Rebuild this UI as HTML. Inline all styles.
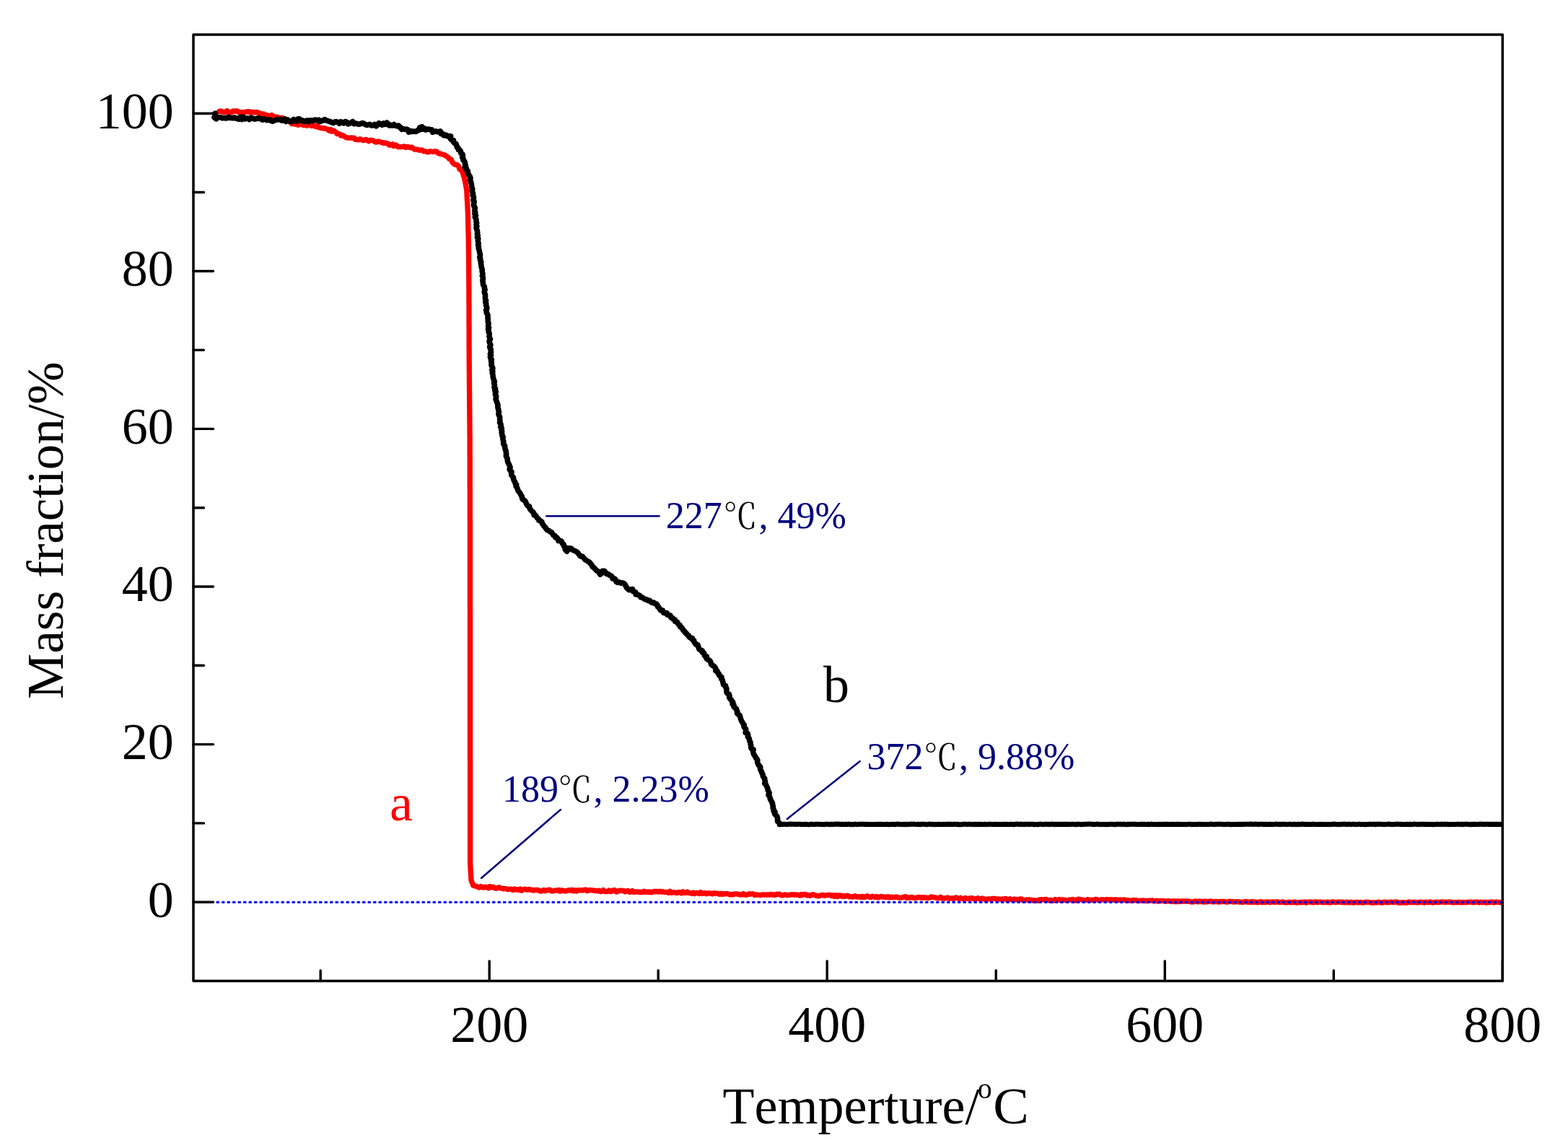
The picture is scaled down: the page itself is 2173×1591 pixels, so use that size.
<!DOCTYPE html>
<html><head><meta charset="utf-8"><title>TGA curves</title>
<style>
html,body{margin:0;padding:0;background:#fff;}
body{width:2173px;height:1591px;overflow:hidden;}
svg{display:block;}
text{font-family:"Liberation Serif", "Noto Serif CJK SC", serif;font-kerning:none;}
.cjk{font-family:"Noto Serif CJK SC", "Liberation Serif", serif;}
</style></head><body>
<svg width="2173" height="1591" viewBox="0 0 2173 1591">
<rect width="2173" height="1591" fill="#fff"/>
<defs><clipPath id="pc"><rect x="268" y="48" width="1814.3" height="1311.5"/></clipPath></defs>
<g clip-path="url(#pc)" fill="none" stroke-linejoin="round" stroke-linecap="round">
<path d="M304.0 154.4L306.1 153.9L308.2 155.2L310.4 155.3L312.5 155.5L314.7 153.5L316.8 155.7L318.8 155.8L320.9 156.0L323.0 153.8L325.0 154.2L327.0 154.0L329.1 153.8L331.1 156.0L333.1 156.0L335.2 155.5L337.2 156.1L339.3 155.7L341.4 154.9L343.4 154.6L345.5 154.7L347.4 156.5L349.5 155.1L351.6 155.5L353.6 155.9L355.9 155.3L357.8 156.3L359.8 156.8L361.7 158.3L363.9 157.8L366.0 158.1L367.7 160.2L370.0 159.4L371.8 160.7L374.0 160.6L376.4 159.5L378.2 160.9L380.2 161.5L382.1 162.8L384.4 162.1L386.2 163.5L388.3 163.5L390.7 163.2L391.9 165.6L394.5 164.6L395.6 167.1L398.2 166.4L400.2 166.9L401.8 168.2L403.1 170.3L404.7 171.7L407.6 170.2L408.9 172.2L410.9 172.3L413.0 173.2L415.1 171.7L417.1 172.6L419.1 172.3L421.1 173.7L423.2 172.3L425.2 174.2L427.4 172.5L429.5 172.8L431.3 174.4L433.4 174.3L435.7 173.8L437.5 175.5L439.8 174.5L441.5 176.7L443.6 176.9L445.5 177.5L447.6 177.8L449.9 177.7L451.9 178.5L454.0 179.1L455.6 181.0L458.3 179.6L459.6 182.2L462.3 181.0L464.0 182.3L465.8 183.2L466.9 185.6L469.2 185.5L471.2 186.0L472.5 188.0L475.0 187.3L476.6 188.7L478.4 189.7L480.3 190.7L482.4 191.1L484.5 191.2L486.7 190.9L488.7 191.2L490.8 191.2L492.5 193.4L494.7 193.3L496.7 193.9L498.9 192.6L500.9 193.5L502.9 194.6L505.0 194.3L507.1 193.3L509.1 194.4L511.0 195.7L513.2 194.2L515.4 194.3L517.3 195.0L519.2 196.4L521.2 197.2L523.6 195.9L525.6 196.3L527.6 196.9L529.6 197.5L531.5 198.4L533.8 197.9L535.7 198.8L537.8 198.8L539.5 201.2L541.7 201.0L544.0 199.8L545.6 202.4L548.1 200.7L550.0 201.8L551.8 203.7L553.9 203.6L556.0 203.7L558.2 203.2L560.3 202.9L562.2 204.4L564.4 203.3L566.4 203.8L568.4 204.6L570.7 204.0L572.5 205.5L574.3 207.0L576.4 207.2L578.6 207.2L580.6 208.1L582.8 208.2L585.0 207.9L586.8 209.6L588.9 209.6L591.2 210.4L593.5 210.9L595.8 209.6L598.1 210.0L600.4 210.4L602.8 209.6L604.9 209.8L606.5 211.7L608.3 212.7L610.4 213.1L612.4 213.6L614.2 214.6L616.2 214.7L617.8 216.1L619.6 217.1L621.4 218.2L622.4 220.2L624.9 220.5L625.9 222.6L627.0 225.2L629.1 227.2L631.1 228.1L633.4 228.3L635.1 229.9L636.2 232.2L637.1 234.8L640.4 237.0L641.0 239.0L641.7 241.1L642.3 243.1L643.0 245.2L643.6 247.2L644.0 249.2L644.4 251.1L644.8 253.1L645.2 255.0L645.5 257.0L645.9 259.0L646.3 260.9L646.7 262.9L646.8 265.0L646.9 267.1L647.0 269.2L647.1 271.3L647.2 273.4L647.3 275.5L647.4 277.6L647.6 279.6L647.7 281.7L647.8 283.8L647.9 285.9L648.0 288.0L648.1 290.1L648.2 292.2L648.3 294.3L648.4 296.4L648.4 298.5L648.5 300.6L648.5 302.7L648.6 304.8L648.6 306.9L648.7 309.0L648.7 311.1L648.8 313.2L648.8 315.3L648.9 317.4L648.9 319.5L649.0 321.6L649.0 323.7L649.1 325.8L649.1 327.9L649.2 330.0L649.2 332.1L649.2 334.2L649.3 336.3L649.3 338.4L649.3 340.5L649.4 342.5L649.4 344.6L649.4 346.7L649.5 348.8L649.5 350.9L649.5 353.0L649.6 355.1L649.6 357.2L649.6 359.3L649.6 361.3L649.6 363.4L649.7 365.4L649.7 367.5L649.7 369.5L649.7 371.6L649.7 373.6L649.7 375.7L649.7 377.7L649.7 379.8L649.8 381.8L649.8 383.9L649.8 385.9L649.8 388.0L649.8 390.0L649.8 392.1L649.8 394.1L649.8 396.2L649.9 398.2L649.9 400.3L649.9 402.3L649.9 404.4L649.9 406.4L649.9 408.4L649.9 410.4L649.9 412.4L649.9 414.4L649.9 416.4L649.9 418.4L650.0 420.4L650.0 422.4L650.0 424.4L650.0 426.4L650.0 428.4L650.0 430.4L650.0 432.4L650.0 434.4L650.0 436.4L650.0 438.4L650.0 440.4L650.0 442.4L650.0 444.4L650.0 446.4L650.0 448.4L650.0 450.4L650.1 452.5L650.1 454.5L650.1 456.5L650.1 458.5L650.1 460.5L650.1 462.5L650.1 464.5L650.1 466.5L650.1 468.5L650.1 470.5L650.1 472.5L650.1 474.5L650.1 476.5L650.1 478.5L650.1 480.5L650.2 482.5L650.2 484.5L650.2 486.5L650.2 488.5L650.2 490.5L650.2 492.5L650.2 494.5L650.2 496.5L650.2 498.5L650.2 500.5L650.2 502.6L650.3 504.6L650.3 506.6L650.3 508.6L650.3 510.6L650.3 512.7L650.3 514.7L650.4 516.7L650.4 518.7L650.4 520.7L650.4 522.8L650.4 524.8L650.4 526.8L650.5 528.8L650.5 530.8L650.5 532.9L650.5 534.9L650.5 536.9L650.5 538.9L650.6 540.9L650.6 543.0L650.6 545.0L650.6 547.0L650.6 549.0L650.6 551.0L650.7 553.0L650.7 555.1L650.7 557.1L650.7 559.1L650.7 561.1L650.7 563.1L650.7 565.2L650.8 567.2L650.8 569.2L650.8 571.2L650.8 573.2L650.8 575.3L650.8 577.3L650.9 579.3L650.9 581.3L650.9 583.3L650.9 585.4L650.9 587.4L650.9 589.4L651.0 591.4L651.0 593.4L651.0 595.5L651.0 597.5L651.0 599.5L651.0 601.5L651.1 603.5L651.1 605.6L651.1 607.6L651.1 609.6L651.1 611.6L651.1 613.6L651.1 615.6L651.1 617.6L651.1 619.6L651.1 621.6L651.1 623.6L651.1 625.6L651.1 627.7L651.1 629.7L651.2 631.7L651.2 633.7L651.2 635.7L651.2 637.7L651.2 639.7L651.2 641.7L651.2 643.7L651.2 645.7L651.2 647.7L651.2 649.7L651.2 651.7L651.2 653.7L651.2 655.7L651.2 657.7L651.2 659.8L651.2 661.8L651.2 663.8L651.2 665.8L651.2 667.8L651.2 669.8L651.2 671.8L651.2 673.8L651.3 675.8L651.3 677.8L651.3 679.8L651.3 681.8L651.3 683.8L651.3 685.8L651.3 687.8L651.3 689.8L651.3 691.9L651.3 693.9L651.3 695.9L651.3 697.9L651.3 699.9L651.3 701.9L651.3 703.9L651.3 705.9L651.3 707.9L651.3 709.9L651.3 711.9L651.3 713.9L651.3 715.9L651.3 717.9L651.4 719.9L651.4 721.9L651.4 724.0L651.4 726.0L651.4 728.0L651.4 730.0L651.4 732.0L651.4 734.0L651.4 736.0L651.4 738.0L651.4 740.0L651.4 742.0L651.4 744.0L651.4 746.0L651.4 748.0L651.4 750.0L651.4 752.0L651.4 754.0L651.4 756.0L651.4 758.0L651.4 760.0L651.4 762.0L651.4 764.0L651.4 766.0L651.4 768.0L651.4 770.0L651.4 772.0L651.4 774.0L651.4 776.0L651.4 778.0L651.4 780.0L651.4 782.0L651.4 784.0L651.4 786.0L651.4 788.0L651.4 790.0L651.4 792.0L651.4 794.0L651.4 796.0L651.4 798.0L651.4 800.0L651.4 802.0L651.4 804.0L651.4 806.0L651.4 808.0L651.4 810.0L651.4 812.0L651.4 814.0L651.4 816.0L651.4 818.0L651.4 820.0L651.4 822.0L651.4 824.0L651.4 826.0L651.4 828.0L651.4 830.0L651.4 832.0L651.4 834.0L651.4 836.0L651.4 838.0L651.4 840.0L651.4 842.0L651.4 844.0L651.5 846.0L651.5 848.0L651.5 850.0L651.5 852.0L651.5 854.0L651.5 856.0L651.5 858.0L651.5 860.0L651.5 862.0L651.5 864.0L651.5 866.0L651.5 868.0L651.5 870.0L651.5 872.0L651.5 874.0L651.5 876.0L651.5 878.0L651.5 880.0L651.5 882.0L651.5 884.0L651.5 886.0L651.5 888.0L651.5 890.0L651.5 892.0L651.5 894.0L651.5 896.0L651.5 898.0L651.5 900.0L651.5 902.0L651.5 904.0L651.5 906.0L651.5 908.0L651.5 910.0L651.5 912.0L651.5 914.0L651.5 916.0L651.5 918.0L651.5 920.0L651.5 922.0L651.5 924.0L651.5 926.0L651.5 928.0L651.5 930.0L651.5 932.0L651.5 934.0L651.5 936.0L651.5 938.0L651.5 940.0L651.5 942.0L651.5 944.0L651.5 946.0L651.5 948.0L651.5 950.0L651.5 952.0L651.5 954.0L651.5 956.0L651.5 958.0L651.5 960.0L651.5 962.0L651.5 964.0L651.5 966.0L651.5 968.0L651.5 970.0L651.5 972.0L651.5 974.0L651.5 976.0L651.5 978.0L651.5 980.0L651.5 982.0L651.5 984.0L651.5 986.0L651.5 988.0L651.5 990.0L651.5 992.0L651.5 994.0L651.5 996.0L651.5 998.0L651.5 1000.0L651.5 1002.0L651.5 1004.0L651.5 1006.0L651.5 1008.0L651.5 1010.0L651.5 1012.0L651.5 1014.0L651.5 1016.0L651.5 1018.0L651.5 1020.0L651.5 1022.0L651.5 1024.0L651.5 1026.0L651.5 1028.0L651.5 1030.0L651.5 1032.0L651.5 1034.0L651.5 1036.0L651.5 1038.0L651.5 1040.0L651.5 1042.0L651.5 1044.0L651.5 1046.0L651.5 1048.0L651.5 1050.0L651.5 1052.0L651.5 1054.0L651.6 1056.0L651.6 1058.0L651.6 1060.0L651.6 1062.0L651.6 1064.0L651.6 1066.0L651.6 1068.0L651.6 1070.0L651.6 1072.0L651.6 1074.0L651.6 1076.0L651.6 1078.0L651.6 1080.0L651.6 1082.0L651.6 1084.0L651.6 1086.0L651.6 1088.0L651.6 1090.0L651.6 1092.0L651.6 1094.0L651.6 1096.0L651.6 1098.0L651.6 1100.0L651.6 1102.0L651.6 1104.0L651.6 1106.0L651.6 1108.0L651.6 1110.0L651.6 1112.0L651.6 1114.0L651.6 1116.0L651.6 1118.0L651.6 1120.0L651.6 1122.0L651.6 1124.0L651.6 1126.0L651.6 1128.0L651.6 1130.0L651.6 1132.0L651.6 1134.0L651.6 1136.0L651.6 1138.0L651.6 1140.0L651.6 1142.0L651.6 1144.0L651.6 1146.0L651.6 1148.0L651.6 1150.0L651.6 1152.0L651.6 1154.0L651.6 1156.0L651.6 1158.0L651.6 1160.0L651.6 1162.0L651.6 1164.1L651.6 1166.1L651.6 1168.2L651.6 1170.2L651.6 1172.3L651.6 1174.3L651.6 1176.4L651.6 1178.4L651.6 1180.4L651.6 1182.5L651.6 1184.5L651.6 1186.6L651.6 1188.6L651.6 1190.7L651.6 1192.7L651.6 1194.8L651.6 1196.8L651.7 1198.9L651.9 1201.0L652.0 1203.1L652.1 1205.2L652.2 1207.3L652.4 1209.3L652.5 1211.4L652.6 1213.5L652.7 1215.6L652.9 1217.7L653.0 1219.8L653.9 1222.3L654.9 1224.7L655.8 1227.2L657.9 1227.8L660.1 1228.2L662.2 1229.4L664.2 1230.1L666.4 1228.4L668.5 1229.6L670.5 1230.0L672.7 1229.2L674.7 1229.5L676.8 1230.8L679.0 1228.6L681.0 1229.9L683.1 1229.1L685.1 1230.7L687.2 1231.3L689.4 1230.5L691.7 1229.7L693.7 1231.0L695.8 1231.1L697.9 1231.8L700.1 1231.5L702.2 1232.0L704.2 1232.7L706.4 1232.1L708.6 1232.1L710.6 1233.6L712.8 1232.0L714.8 1233.2L716.9 1232.6L718.9 1233.6L721.0 1232.1L723.0 1234.3L725.1 1232.8L727.2 1232.2L729.2 1232.8L731.3 1233.2L733.3 1232.3L735.4 1233.4L737.4 1233.4L739.4 1234.2L741.5 1233.4L743.6 1233.3L745.6 1233.3L747.6 1234.6L749.7 1235.2L751.7 1234.2L753.8 1233.4L755.8 1234.8L757.9 1233.8L759.9 1233.4L762.0 1233.2L764.0 1234.8L766.1 1234.8L768.1 1234.4L770.1 1234.0L772.2 1234.2L774.2 1233.4L776.3 1235.2L778.3 1233.7L780.4 1234.4L782.4 1234.9L784.5 1234.9L786.5 1234.0L788.6 1233.6L790.7 1234.2L792.8 1233.2L794.9 1234.9L797.0 1233.8L799.1 1235.0L801.2 1233.6L803.3 1233.9L805.3 1233.6L807.4 1234.0L809.5 1233.4L811.6 1233.0L813.7 1234.7L815.8 1233.7L817.9 1233.6L820.0 1233.7L822.0 1234.2L824.0 1234.1L826.0 1234.7L828.0 1234.8L830.0 1234.1L832.0 1235.5L834.0 1235.4L836.1 1233.5L838.1 1235.4L840.1 1235.6L842.1 1235.4L844.1 1233.9L846.1 1235.6L848.1 1235.1L850.1 1233.7L852.1 1233.7L854.1 1236.0L856.1 1235.4L858.2 1234.4L860.2 1234.1L862.2 1234.3L864.2 1234.5L866.2 1235.9L868.2 1234.9L870.2 1234.5L872.2 1236.3L874.2 1236.1L876.2 1234.6L878.2 1236.4L880.2 1235.8L882.2 1236.2L884.2 1236.0L886.2 1236.6L888.2 1236.4L890.2 1236.6L892.3 1235.1L894.3 1236.3L896.3 1235.9L898.3 1236.5L900.3 1235.8L902.3 1236.9L904.3 1236.2L906.3 1235.5L908.3 1235.5L910.4 1235.3L912.3 1236.2L914.4 1235.2L916.4 1236.2L918.4 1235.5L920.4 1236.4L922.4 1236.4L924.4 1236.6L926.4 1237.4L928.4 1235.4L930.4 1237.4L932.4 1236.6L934.4 1236.9L936.4 1237.1L938.4 1237.6L940.5 1236.5L942.5 1236.7L944.4 1238.0L946.5 1235.9L948.5 1237.3L950.5 1237.4L952.5 1236.0L954.5 1237.4L956.6 1237.7L958.6 1238.3L960.7 1237.0L962.7 1238.6L964.7 1237.5L966.8 1237.5L968.8 1238.6L970.9 1236.6L972.9 1238.3L974.9 1238.1L977.0 1237.5L979.0 1238.8L981.1 1237.7L983.1 1238.0L985.2 1238.2L987.2 1238.9L989.3 1237.6L991.3 1238.2L993.3 1238.2L995.4 1238.6L997.4 1239.4L999.5 1238.1L1001.5 1239.4L1003.5 1238.6L1005.6 1238.8L1007.6 1238.4L1009.7 1239.0L1011.7 1240.0L1013.7 1239.4L1015.8 1239.8L1017.8 1238.9L1019.9 1238.9L1021.9 1239.0L1024.0 1239.6L1026.0 1239.8L1028.0 1240.1L1030.0 1238.6L1032.0 1240.0L1034.0 1240.3L1036.1 1239.7L1038.1 1238.7L1040.1 1239.2L1042.1 1238.7L1044.1 1239.0L1046.1 1240.5L1048.1 1239.9L1050.1 1240.0L1052.1 1240.3L1054.2 1240.6L1056.2 1240.0L1058.2 1240.0L1060.2 1240.1L1062.2 1240.2L1064.2 1240.0L1066.2 1240.2L1068.2 1239.3L1070.2 1240.2L1072.3 1239.8L1074.3 1240.5L1076.3 1239.2L1078.3 1239.3L1080.3 1239.1L1082.3 1240.6L1084.3 1240.9L1086.3 1240.4L1088.4 1239.8L1090.4 1240.7L1092.4 1240.7L1094.4 1240.2L1096.4 1239.7L1098.4 1239.8L1100.4 1240.0L1102.4 1239.8L1104.4 1240.1L1106.5 1240.5L1108.5 1241.1L1110.5 1239.4L1112.5 1240.4L1114.5 1239.4L1116.5 1239.6L1118.5 1241.0L1120.5 1240.6L1122.5 1241.4L1124.5 1240.5L1126.6 1239.7L1128.6 1240.5L1130.6 1241.0L1132.6 1241.7L1134.6 1241.9L1136.6 1240.9L1138.6 1240.9L1140.6 1240.3L1142.6 1241.4L1144.7 1240.6L1146.7 1240.6L1148.7 1240.4L1150.7 1240.4L1152.7 1241.8L1154.7 1240.8L1156.7 1242.5L1158.7 1240.8L1160.7 1242.5L1162.7 1241.0L1164.8 1240.9L1166.7 1242.3L1168.8 1241.4L1170.7 1242.5L1172.8 1241.5L1174.8 1241.2L1176.8 1242.8L1178.8 1242.7L1180.8 1243.0L1182.8 1242.8L1184.8 1241.6L1186.8 1242.8L1188.8 1243.0L1190.8 1242.6L1192.8 1243.6L1194.9 1242.3L1196.8 1243.7L1198.9 1243.3L1200.9 1242.0L1202.9 1242.0L1204.9 1243.3L1206.9 1243.7L1208.9 1242.2L1210.9 1242.7L1212.9 1243.6L1215.0 1242.5L1217.0 1243.9L1219.0 1243.1L1221.0 1242.3L1223.0 1242.9L1225.0 1243.4L1227.0 1243.1L1229.0 1243.6L1231.0 1242.6L1233.0 1243.9L1235.0 1243.1L1237.1 1243.6L1239.1 1243.6L1241.1 1243.2L1243.1 1243.2L1245.1 1244.0L1247.1 1244.3L1249.1 1244.0L1251.1 1243.6L1253.1 1243.1L1255.1 1242.7L1257.1 1244.5L1259.2 1244.0L1261.2 1244.2L1263.2 1243.3L1265.2 1243.8L1267.2 1244.6L1269.2 1244.3L1271.2 1243.9L1273.2 1243.3L1275.2 1243.6L1277.2 1244.5L1279.2 1243.5L1281.3 1244.2L1283.3 1244.0L1285.3 1244.6L1287.3 1244.5L1289.3 1243.4L1291.3 1242.9L1293.3 1243.5L1295.3 1243.8L1297.3 1244.2L1299.3 1244.7L1301.3 1244.9L1303.4 1243.3L1305.3 1244.9L1307.3 1244.9L1309.3 1245.1L1311.4 1244.5L1313.4 1244.0L1315.4 1245.2L1317.4 1245.1L1319.4 1244.9L1321.4 1245.4L1323.4 1244.4L1325.4 1243.9L1327.4 1244.9L1329.4 1245.4L1331.5 1244.3L1333.4 1245.4L1335.4 1245.8L1337.5 1244.5L1339.5 1245.3L1341.5 1245.4L1343.5 1245.1L1345.5 1244.6L1347.5 1244.7L1349.5 1245.8L1351.5 1245.9L1353.5 1245.3L1355.5 1244.6L1357.5 1246.1L1359.5 1246.1L1361.6 1245.0L1363.5 1245.8L1365.5 1246.5L1367.5 1246.5L1369.6 1245.8L1371.6 1245.8L1373.6 1246.0L1375.6 1245.3L1377.6 1245.3L1379.6 1245.4L1381.6 1246.5L1383.6 1245.8L1385.6 1246.3L1387.7 1246.0L1389.7 1246.3L1391.7 1245.6L1393.7 1245.4L1395.7 1247.4L1397.7 1246.2L1399.8 1245.7L1401.7 1246.8L1403.7 1247.2L1405.8 1246.0L1407.8 1246.9L1409.8 1246.4L1411.8 1246.8L1413.9 1245.9L1415.9 1246.0L1417.8 1247.9L1419.8 1247.7L1421.9 1247.0L1423.9 1247.2L1425.9 1246.7L1427.9 1247.8L1429.9 1247.1L1431.9 1248.2L1433.9 1247.9L1436.0 1248.0L1438.0 1248.4L1440.0 1247.0L1442.0 1246.6L1444.1 1246.9L1446.1 1246.8L1448.1 1246.6L1450.2 1246.5L1452.2 1247.5L1454.3 1248.1L1456.3 1247.3L1458.4 1248.3L1460.4 1248.2L1462.4 1246.5L1464.5 1247.5L1466.5 1247.1L1468.5 1246.5L1470.6 1248.2L1472.6 1246.8L1474.7 1247.4L1476.7 1247.5L1478.7 1248.2L1480.8 1247.6L1482.8 1247.0L1484.8 1247.1L1486.9 1246.5L1488.9 1248.1L1491.0 1248.1L1493.0 1246.6L1495.0 1246.2L1497.1 1246.6L1499.1 1246.8L1501.2 1247.6L1503.2 1247.6L1505.2 1247.5L1507.3 1246.5L1509.3 1247.4L1511.4 1247.3L1513.4 1247.2L1515.4 1247.6L1517.5 1246.4L1519.5 1246.5L1521.5 1247.3L1523.6 1247.5L1525.6 1247.1L1527.7 1246.7L1529.7 1247.0L1531.7 1247.3L1533.8 1246.5L1535.8 1246.8L1537.9 1246.8L1539.9 1246.7L1541.9 1247.2L1544.0 1246.8L1546.0 1247.0L1548.1 1246.9L1550.1 1247.6L1552.2 1246.8L1554.2 1247.7L1556.2 1247.2L1558.3 1247.0L1560.3 1248.1L1562.4 1247.3L1564.4 1248.2L1566.4 1248.2L1568.5 1248.3L1570.5 1247.4L1572.6 1247.8L1574.6 1247.5L1576.6 1248.5L1578.7 1248.5L1580.7 1248.2L1582.8 1248.1L1584.8 1248.0L1586.8 1248.6L1588.9 1248.3L1590.9 1248.5L1593.0 1248.0L1595.0 1248.1L1597.1 1247.9L1599.1 1248.8L1601.1 1248.6L1603.2 1248.2L1605.2 1249.1L1607.3 1248.4L1609.3 1248.7L1611.3 1248.4L1613.4 1248.6L1615.4 1249.3L1617.5 1248.8L1619.5 1248.6L1621.5 1249.0L1623.6 1248.8L1625.6 1249.5L1627.7 1248.6L1629.7 1249.7L1631.7 1248.6L1633.8 1249.6L1635.8 1249.4L1637.9 1248.8L1639.9 1249.2L1641.9 1249.0L1644.0 1249.0L1646.0 1248.9L1648.0 1249.1L1650.1 1249.9L1652.1 1249.9L1654.2 1249.9L1656.2 1248.9L1658.2 1249.1L1660.3 1249.9L1662.3 1248.9L1664.3 1249.7L1666.4 1249.2L1668.4 1250.1L1670.5 1248.9L1672.5 1249.9L1674.5 1249.4L1676.6 1249.1L1678.6 1249.0L1680.7 1250.0L1682.7 1249.7L1684.7 1249.3L1686.8 1249.6L1688.8 1250.2L1690.9 1249.4L1692.9 1249.8L1694.9 1249.3L1697.0 1249.4L1699.0 1250.1L1701.0 1250.1L1703.1 1249.5L1705.1 1249.4L1707.2 1249.4L1709.2 1250.0L1711.2 1249.9L1713.2 1249.7L1715.3 1249.6L1717.3 1250.1L1719.3 1250.2L1721.3 1250.4L1723.3 1250.1L1725.3 1249.6L1727.4 1249.5L1729.4 1250.3L1731.4 1249.9L1733.4 1250.3L1735.4 1249.5L1737.4 1250.5L1739.5 1249.9L1741.5 1250.5L1743.5 1250.6L1745.5 1250.1L1747.5 1249.6L1749.6 1250.7L1751.6 1250.2L1753.6 1250.6L1755.6 1249.9L1757.6 1249.8L1759.6 1250.6L1761.7 1250.1L1763.7 1249.9L1765.7 1250.1L1767.7 1250.4L1769.7 1249.7L1771.8 1250.3L1773.8 1250.3L1775.8 1250.4L1777.8 1249.9L1779.8 1250.6L1781.8 1250.8L1783.9 1250.8L1785.9 1250.2L1787.9 1250.7L1789.9 1250.3L1791.9 1250.7L1794.0 1249.9L1796.0 1250.9L1798.0 1251.0L1800.0 1250.5L1802.0 1250.5L1804.0 1250.5L1806.0 1250.5L1808.0 1249.9L1810.0 1251.1L1812.0 1250.2L1814.0 1250.1L1816.0 1250.0L1818.0 1250.2L1820.0 1250.9L1822.0 1249.9L1824.0 1250.0L1826.0 1250.7L1828.0 1250.1L1830.0 1249.9L1832.0 1250.6L1834.0 1250.6L1836.0 1250.5L1838.0 1250.7L1840.0 1250.0L1842.0 1250.9L1844.0 1250.8L1846.0 1250.0L1848.0 1250.0L1850.0 1250.5L1852.0 1250.5L1854.0 1250.2L1856.0 1250.0L1858.0 1250.4L1860.0 1250.1L1862.0 1250.6L1864.0 1250.9L1866.0 1250.1L1868.0 1250.6L1870.0 1250.8L1872.0 1250.1L1874.0 1250.9L1876.0 1251.0L1878.0 1250.4L1880.0 1250.4L1882.0 1250.9L1884.0 1250.5L1886.0 1250.4L1888.0 1251.0L1890.0 1250.8L1892.0 1250.3L1894.0 1250.2L1896.0 1250.3L1898.0 1250.4L1900.0 1251.1L1902.0 1250.9L1904.0 1251.0L1906.0 1250.9L1908.0 1250.9L1910.0 1250.0L1912.0 1250.5L1914.0 1251.0L1916.0 1251.0L1918.0 1250.2L1920.0 1250.4L1922.0 1250.7L1924.0 1250.3L1926.0 1250.5L1928.0 1250.0L1930.0 1250.4L1932.0 1250.5L1934.0 1249.9L1936.0 1250.1L1938.0 1251.1L1940.0 1250.8L1942.0 1251.0L1944.0 1250.7L1946.0 1250.9L1948.0 1251.0L1950.0 1251.0L1952.0 1249.9L1954.0 1250.7L1956.0 1250.2L1958.0 1250.7L1960.0 1250.2L1962.0 1250.6L1964.0 1251.0L1966.0 1250.6L1968.0 1250.2L1970.0 1250.5L1972.0 1250.4L1974.0 1251.0L1976.0 1250.2L1978.0 1250.3L1980.0 1250.7L1982.0 1250.0L1984.0 1250.6L1986.0 1251.0L1988.0 1250.5L1990.0 1250.2L1992.0 1250.5L1994.0 1250.5L1996.0 1250.1L1998.0 1250.0L2000.0 1250.1L2002.0 1250.3L2004.0 1250.4L2006.0 1250.2L2008.0 1250.2L2010.0 1250.0L2012.0 1250.6L2014.0 1250.9L2016.0 1250.6L2018.0 1250.6L2020.0 1250.7L2022.0 1250.1L2024.0 1250.8L2026.0 1250.5L2028.0 1250.6L2030.0 1250.6L2032.0 1250.5L2034.0 1250.3L2036.0 1250.2L2038.0 1250.2L2040.0 1250.5L2042.0 1250.4L2044.0 1250.6L2046.0 1249.9L2048.0 1250.3L2050.0 1250.9L2052.0 1250.2L2054.0 1250.6L2056.0 1250.5L2058.0 1250.2L2060.0 1251.1L2062.0 1250.3L2064.0 1250.8L2066.0 1250.1L2068.0 1250.0L2070.0 1250.9L2072.0 1250.4L2074.0 1250.0L2076.0 1250.4L2078.0 1250.4L2080.0 1250.8L2082.0 1250.5" stroke="#ff0000" stroke-width="7.3"/>
<path d="M298.2 157.2L298.7 159.4L296.9 162.6L299.6 164.8L301.5 162.3L303.8 162.8L305.9 162.6L308.2 163.7L310.4 163.2L312.6 163.9L314.8 163.6L316.8 162.2L318.8 163.3L320.8 163.5L322.8 163.7L325.0 162.8L326.9 164.2L329.0 164.1L330.9 165.2L333.3 162.2L335.2 165.4L337.2 161.9L339.3 164.9L341.3 164.1L343.4 163.7L345.5 165.5L347.5 163.9L349.5 163.3L351.6 164.7L353.3 165.0L355.6 164.3L357.8 163.7L359.8 164.4L361.8 164.8L363.7 166.2L366.0 164.8L368.0 165.6L369.9 166.6L372.0 166.2L374.0 166.0L376.1 167.8L378.1 168.1L380.2 166.7L382.2 166.5L384.3 165.4L386.3 165.9L388.4 165.3L390.4 167.0L392.5 167.0L394.5 165.1L396.6 168.4L398.6 166.0L400.7 168.1L402.7 168.1L404.8 168.5L406.8 165.5L408.9 166.4L410.9 168.3L413.0 164.7L415.0 164.9L417.1 167.0L419.1 166.7L421.2 168.4L423.2 167.8L425.3 166.9L427.3 168.7L429.3 166.8L431.4 166.8L433.4 167.4L435.5 166.3L437.5 166.1L439.6 167.1L441.6 166.1L443.7 168.5L445.6 167.4L447.7 167.0L450.0 165.6L451.9 166.9L453.9 167.3L455.9 168.2L457.9 168.5L459.9 169.9L461.9 170.4L464.1 168.7L466.2 168.6L468.1 169.5L470.1 171.2L472.3 168.7L474.3 169.6L476.3 170.9L478.4 168.5L480.5 169.1L482.4 171.8L484.5 171.2L486.6 170.0L488.7 168.5L490.6 171.6L492.7 170.9L494.7 171.4L496.3 172.1L498.4 172.2L500.8 171.0L503.1 170.5L504.9 171.5L506.6 172.9L508.6 173.4L510.5 172.7L512.6 172.4L514.8 174.0L516.9 173.7L518.9 172.5L521.3 174.8L523.2 173.2L525.1 170.6L527.3 171.9L529.5 173.2L531.4 171.0L533.5 172.4L536.0 170.0L537.8 171.5L539.5 174.0L541.7 173.4L543.7 174.0L546.1 172.5L547.9 174.1L549.9 174.7L552.4 174.0L553.6 176.3L555.6 176.8L556.6 179.4L559.2 178.8L561.4 179.2L563.7 179.0L565.5 180.1L566.3 183.1L569.3 181.7L569.7 182.5L571.8 181.9L574.4 182.3L576.9 182.4L578.5 180.8L580.8 180.5L581.6 176.9L584.8 175.7L586.0 179.2L588.4 178.0L589.9 180.0L592.3 179.1L594.4 179.0L596.3 179.9L598.3 179.7L599.7 183.3L601.9 182.4L604.1 181.9L606.0 182.6L608.0 182.8L610.3 181.9L611.2 185.4L613.7 185.3L615.0 187.7L617.9 187.0L619.6 188.7L622.2 188.4L624.6 188.7L624.3 192.4L625.8 193.9L628.5 194.5L628.6 197.0L630.0 198.6L632.2 199.5L632.8 201.6L633.1 203.8L635.1 205.1L635.2 207.4L637.8 208.3L638.5 210.3L638.9 212.5L641.0 213.8L641.4 215.8L640.6 218.1L642.0 219.8L641.9 221.9L643.7 223.5L644.4 225.4L644.5 227.4L645.4 229.3L644.1 231.8L646.4 233.2L646.6 235.4L648.4 237.0L648.2 239.3L649.3 241.2L650.1 243.2L651.4 244.9L652.1 247.1L651.2 249.4L652.4 251.4L652.9 253.6L653.4 255.7L653.6 257.9L654.0 260.0L654.8 262.1L654.0 264.4L655.0 266.5L655.6 268.6L655.0 270.8L656.4 272.8L656.4 275.0L655.6 277.3L657.2 279.3L656.9 281.5L656.5 283.7L656.8 285.8L658.3 287.8L658.2 290.0L657.8 292.2L658.7 294.3L657.9 296.5L659.5 298.5L658.3 300.8L659.4 302.9L660.1 305.0L659.9 307.2L660.7 309.3L659.9 311.5L660.9 313.6L660.0 315.8L660.7 317.9L661.3 320.0L661.8 322.1L661.3 324.4L662.3 326.4L661.3 328.7L662.8 330.7L662.3 332.9L662.5 335.1L663.2 337.2L662.5 339.4L663.4 341.5L663.2 343.7L663.7 345.8L664.4 347.9L664.6 350.1L665.4 352.1L665.5 354.3L664.6 356.6L665.8 358.6L665.5 360.8L666.8 362.9L666.3 365.1L666.9 367.2L667.0 369.4L667.6 371.5L668.3 373.6L668.1 375.8L668.6 377.9L669.0 380.0L668.3 382.3L669.3 384.4L669.4 386.5L668.8 388.8L669.3 390.9L669.4 393.1L669.7 395.2L671.3 397.2L671.4 399.4L672.1 401.5L671.2 403.8L671.5 405.9L672.4 408.0L672.6 410.1L672.4 412.3L672.6 414.5L673.6 416.6L672.7 418.8L673.8 420.9L673.5 423.1L674.5 425.2L674.9 427.3L673.6 429.6L674.2 431.7L674.4 433.9L675.8 435.9L676.0 437.9L676.0 440.0L676.2 442.0L676.2 444.0L676.3 446.1L677.1 448.0L676.8 450.1L676.5 452.2L677.5 454.1L676.5 456.3L677.2 458.2L677.2 460.3L678.2 462.2L678.1 464.3L677.9 466.3L678.7 468.3L679.4 470.3L678.1 472.4L678.3 474.4L679.3 476.3L679.9 478.3L678.6 480.4L679.2 482.4L680.3 484.4L680.1 486.4L680.5 488.4L679.4 490.5L680.5 492.4L679.4 494.5L679.9 496.6L681.3 498.4L680.5 500.6L681.3 502.5L680.9 504.6L681.1 506.7L682.3 508.6L682.9 510.6L681.7 512.8L682.9 514.7L682.2 516.8L682.9 518.8L683.1 520.8L683.2 522.9L683.9 524.8L684.4 526.8L685.4 528.7L684.5 530.9L685.3 532.9L685.4 534.9L684.9 537.0L686.6 538.9L685.7 541.0L687.3 542.9L686.4 545.1L686.5 547.1L687.7 549.0L687.5 551.1L687.0 553.2L687.9 555.2L688.4 557.2L689.3 559.1L690.0 561.1L689.8 563.2L690.0 565.2L690.7 567.2L690.9 569.2L691.5 571.2L690.9 573.4L691.3 575.4L692.4 577.3L692.7 579.3L692.6 581.4L693.0 583.4L692.5 585.6L693.9 587.4L694.3 589.4L693.6 591.6L695.3 593.4L694.8 595.5L695.6 597.5L695.1 599.6L695.9 601.6L695.8 603.6L697.2 605.5L696.7 607.6L697.1 609.6L697.8 611.6L697.6 613.7L697.9 615.8L699.6 617.6L699.7 619.6L699.9 621.7L700.6 623.6L701.3 625.6L701.3 627.7L701.8 629.7L701.3 631.9L702.2 633.8L703.2 635.7L703.2 637.8L703.6 639.9L704.5 641.9L705.5 643.8L706.3 645.7L707.1 647.7L706.1 650.3L707.2 652.2L709.0 653.8L708.6 656.2L708.8 658.4L710.2 660.2L711.6 661.9L711.6 664.2L712.4 666.2L713.7 667.8L714.0 670.0L715.7 671.5L715.1 674.0L716.4 675.7L717.3 677.6L717.7 679.7L719.0 681.4L720.5 683.0L721.4 684.8L722.4 686.6L723.4 688.3L723.6 690.8L724.8 692.5L726.9 693.5L728.3 695.0L729.0 697.2L730.0 699.1L731.2 700.8L733.6 701.7L733.9 704.2L735.1 706.1L736.5 707.9L738.4 709.4L739.8 711.1L740.0 713.8L742.3 714.5L743.5 716.1L744.5 717.8L746.2 719.0L746.7 721.3L749.1 721.8L750.8 723.0L751.4 725.5L752.8 727.3L754.0 729.3L755.8 730.8L756.9 732.8L758.4 734.6L760.7 735.3L762.3 736.9L764.4 737.8L765.7 739.6L766.7 741.6L769.1 742.3L769.6 744.7L772.0 745.2L773.1 747.0L773.8 749.4L776.7 749.2L778.5 750.6L779.2 753.1L781.1 754.6L781.5 757.2L784.1 758.7L783.3 761.7L785.6 764.1L787.0 762.2L788.0 759.8L791.7 760.1L793.0 761.9L795.1 762.7L797.0 763.6L799.0 764.6L800.7 765.9L801.8 767.7L803.1 769.3L804.4 770.9L807.1 771.0L808.4 772.6L809.7 774.2L811.0 775.8L812.8 776.8L814.9 778.0L816.9 779.2L818.4 781.1L820.0 782.9L821.0 785.2L822.8 786.6L824.5 788.1L825.9 789.8L827.6 791.3L829.8 792.2L830.8 794.6L831.8 796.1L834.3 793.9L834.9 791.2L837.7 791.4L839.1 793.2L840.5 795.3L842.9 795.6L844.6 797.2L846.9 797.9L848.4 799.5L849.0 801.9L852.0 802.0L853.3 803.8L854.0 806.2L855.8 807.3L858.2 806.7L860.4 808.3L862.7 807.8L864.8 808.5L866.5 810.5L867.6 812.8L868.9 815.1L870.9 816.6L872.0 817.6L876.6 816.5L876.7 819.2L878.7 820.1L880.9 820.9L881.1 823.8L884.1 824.2L886.5 825.4L888.1 827.8L890.3 828.1L892.1 829.5L894.0 830.6L896.3 830.8L897.9 832.4L900.4 832.4L901.8 834.1L903.6 835.2L906.0 835.0L907.4 836.7L909.6 836.9L911.1 838.6L911.5 840.8L913.3 842.0L914.1 843.9L915.4 845.7L918.4 845.8L919.3 849.0L921.4 849.6L924.0 849.5L924.7 852.1L927.1 852.4L929.1 853.1L929.8 855.9L932.0 856.2L932.9 858.1L935.4 858.7L935.6 861.2L938.2 861.7L939.2 863.5L940.3 865.3L942.3 866.3L942.6 868.8L944.6 869.7L945.9 871.3L946.7 873.5L948.6 874.5L949.3 876.7L951.2 877.7L952.3 879.6L954.2 880.6L955.1 882.6L956.6 884.0L959.3 884.3L959.7 886.7L961.7 887.7L962.1 889.9L963.5 891.4L964.4 893.2L967.0 893.8L967.7 895.7L968.2 897.8L969.0 899.7L970.7 901.0L973.2 901.6L973.4 904.1L975.6 905.0L976.1 907.3L976.9 909.4L979.4 910.0L979.2 912.9L980.9 914.1L983.0 915.2L984.4 916.7L985.2 918.8L985.7 921.0L987.4 922.3L989.5 923.3L990.9 924.9L991.9 926.7L991.7 929.3L994.1 930.1L994.5 932.3L996.2 933.6L996.6 935.8L998.4 937.1L1000.0 938.4L999.7 940.9L1001.2 942.6L1001.7 944.8L1002.2 946.9L1002.7 949.0L1005.6 950.2L1005.7 952.5L1006.9 954.4L1006.9 956.7L1006.9 959.0L1007.9 961.0L1010.4 962.0L1011.0 964.0L1010.6 966.5L1011.8 968.2L1013.3 969.7L1014.1 971.6L1015.7 973.1L1015.1 975.7L1017.0 977.0L1016.9 979.4L1018.4 980.9L1020.4 982.2L1020.8 984.3L1021.9 986.0L1021.4 988.5L1023.0 990.0L1025.0 991.3L1025.7 993.2L1026.2 995.3L1026.9 997.2L1027.5 999.2L1028.8 1000.8L1029.7 1002.8L1031.3 1004.5L1030.9 1007.0L1032.2 1008.8L1033.7 1010.5L1033.6 1012.9L1033.2 1015.4L1036.1 1016.6L1036.7 1018.7L1036.3 1021.1L1037.9 1022.8L1038.6 1024.8L1038.8 1027.0L1040.0 1028.9L1040.0 1031.1L1040.8 1033.1L1040.6 1035.4L1041.2 1037.5L1044.1 1038.7L1043.6 1041.2L1043.9 1043.2L1044.5 1045.1L1045.6 1046.9L1046.7 1048.5L1047.5 1050.4L1048.9 1051.9L1049.9 1053.7L1049.6 1056.0L1050.2 1057.9L1050.9 1059.8L1052.3 1061.3L1053.8 1063.1L1053.5 1065.4L1054.2 1067.4L1055.4 1069.3L1055.8 1071.4L1057.1 1073.2L1057.3 1075.4L1058.3 1077.3L1059.8 1079.0L1059.8 1081.2L1060.5 1083.2L1059.7 1085.7L1061.5 1087.4L1062.3 1089.3L1063.2 1091.2L1063.9 1093.2L1064.2 1095.3L1065.3 1097.2L1066.2 1099.1L1064.9 1101.7L1066.4 1103.4L1067.1 1105.4L1067.4 1107.5L1068.6 1109.4L1069.5 1111.2L1070.5 1113.2L1070.7 1115.4L1071.4 1117.4L1071.1 1119.7L1072.2 1121.6L1072.1 1123.9L1074.1 1125.4L1073.5 1127.9L1075.0 1129.7L1076.8 1131.2L1077.5 1133.5L1077.6 1136.0L1077.6 1138.5L1079.9 1140.1L1080.5 1142.4" stroke="#000" stroke-width="7.6"/>
<path d="M1080.5 1142.6L1082.5 1142.4L1084.5 1142.6L1086.5 1142.1L1088.5 1142.4L1090.5 1142.6L1092.5 1142.3L1094.5 1142.3L1096.5 1142.1L1098.5 1142.2L1100.5 1142.3L1102.5 1142.5L1104.5 1142.2L1106.5 1142.3L1108.5 1142.2L1110.5 1142.5L1112.5 1142.6L1114.6 1142.5L1116.6 1142.2L1118.6 1142.5L1120.6 1142.7L1122.6 1142.5L1124.6 1142.1L1126.6 1142.6L1128.6 1142.6L1130.6 1142.3L1132.6 1142.2L1134.6 1142.2L1136.6 1142.4L1138.6 1142.6L1140.6 1142.5L1142.6 1142.7L1144.6 1142.2L1146.6 1142.3L1148.6 1142.5L1150.6 1142.5L1152.6 1142.3L1154.6 1142.5L1156.6 1142.3L1158.6 1142.1L1160.6 1142.3L1162.6 1142.1L1164.6 1142.5L1166.6 1142.3L1168.6 1142.4L1170.6 1142.5L1172.6 1142.3L1174.6 1142.4L1176.6 1142.1L1178.6 1142.7L1180.7 1142.4L1182.7 1142.7L1184.7 1142.1L1186.7 1142.5L1188.7 1142.5L1190.7 1142.3L1192.7 1142.2L1194.7 1142.2L1196.7 1142.2L1198.7 1142.6L1200.7 1142.2L1202.7 1142.6L1204.7 1142.4L1206.7 1142.4L1208.7 1142.5L1210.7 1142.4L1212.7 1142.5L1214.7 1142.5L1216.7 1142.3L1218.7 1142.5L1220.7 1142.3L1222.7 1142.5L1224.7 1142.6L1226.7 1142.6L1228.7 1142.3L1230.7 1142.6L1232.7 1142.7L1234.7 1142.4L1236.7 1142.3L1238.7 1142.4L1240.7 1142.7L1242.7 1142.2L1244.7 1142.1L1246.7 1142.4L1248.8 1142.5L1250.8 1142.6L1252.8 1142.3L1254.8 1142.7L1256.8 1142.2L1258.8 1142.6L1260.8 1142.2L1262.8 1142.1L1264.8 1142.2L1266.8 1142.1L1268.8 1142.4L1270.8 1142.4L1272.8 1142.2L1274.8 1142.7L1276.8 1142.3L1278.8 1142.2L1280.8 1142.2L1282.8 1142.5L1284.8 1142.7L1286.8 1142.2L1288.8 1142.1L1290.8 1142.6L1292.8 1142.2L1294.8 1142.7L1296.8 1142.4L1298.8 1142.5L1300.8 1142.3L1302.8 1142.6L1304.8 1142.4L1306.8 1142.3L1308.8 1142.6L1310.8 1142.2L1312.8 1142.5L1314.9 1142.1L1316.9 1142.5L1318.9 1142.3L1320.9 1142.6L1322.9 1142.1L1324.9 1142.4L1326.9 1142.3L1328.9 1142.7L1330.9 1142.7L1332.9 1142.5L1334.9 1142.2L1336.9 1142.3L1338.9 1142.3L1340.9 1142.4L1342.9 1142.2L1344.9 1142.2L1346.9 1142.6L1348.9 1142.5L1350.9 1142.3L1352.9 1142.7L1354.9 1142.2L1356.9 1142.4L1358.9 1142.2L1360.9 1142.6L1362.9 1142.6L1364.9 1142.3L1366.9 1142.6L1368.9 1142.6L1370.9 1142.3L1372.9 1142.3L1374.9 1142.4L1376.9 1142.6L1378.9 1142.2L1381.0 1142.5L1383.0 1142.5L1385.0 1142.4L1387.0 1142.4L1389.0 1142.6L1391.0 1142.2L1393.0 1142.6L1395.0 1142.3L1397.0 1142.6L1399.0 1142.6L1401.0 1142.2L1403.0 1142.6L1405.0 1142.7L1407.0 1142.3L1409.0 1142.1L1411.0 1142.2L1413.0 1142.7L1415.0 1142.1L1417.0 1142.6L1419.0 1142.2L1421.0 1142.5L1423.0 1142.2L1425.0 1142.2L1427.0 1142.5L1429.0 1142.2L1431.0 1142.3L1433.0 1142.7L1435.0 1142.5L1437.0 1142.6L1439.0 1142.7L1441.0 1142.1L1443.0 1142.2L1445.0 1142.6L1447.0 1142.5L1449.1 1142.1L1451.1 1142.4L1453.1 1142.2L1455.1 1142.4L1457.1 1142.2L1459.1 1142.1L1461.1 1142.7L1463.1 1142.3L1465.1 1142.6L1467.1 1142.2L1469.1 1142.4L1471.1 1142.2L1473.1 1142.4L1475.1 1142.2L1477.1 1142.5L1479.1 1142.2L1481.1 1142.5L1483.1 1142.4L1485.1 1142.2L1487.1 1142.3L1489.1 1142.4L1491.1 1142.7L1493.1 1142.3L1495.1 1142.2L1497.1 1142.7L1499.1 1142.6L1501.1 1142.5L1503.1 1142.3L1505.1 1142.2L1507.1 1142.3L1509.1 1142.1L1511.1 1142.1L1513.1 1142.4L1515.2 1142.3L1517.2 1142.4L1519.2 1142.3L1521.2 1142.1L1523.2 1142.5L1525.2 1142.5L1527.2 1142.4L1529.2 1142.4L1531.2 1142.5L1533.2 1142.7L1535.2 1142.6L1537.2 1142.5L1539.2 1142.3L1541.2 1142.3L1543.2 1142.4L1545.2 1142.7L1547.2 1142.3L1549.2 1142.3L1551.2 1142.3L1553.2 1142.2L1555.2 1142.7L1557.2 1142.1L1559.2 1142.5L1561.2 1142.7L1563.2 1142.3L1565.2 1142.5L1567.2 1142.3L1569.2 1142.2L1571.2 1142.2L1573.2 1142.2L1575.2 1142.6L1577.2 1142.6L1579.2 1142.6L1581.2 1142.1L1583.3 1142.5L1585.3 1142.3L1587.3 1142.5L1589.3 1142.4L1591.3 1142.3L1593.3 1142.7L1595.3 1142.1L1597.3 1142.5L1599.3 1142.6L1601.3 1142.4L1603.3 1142.5L1605.3 1142.7L1607.3 1142.2L1609.3 1142.5L1611.3 1142.5L1613.3 1142.3L1615.3 1142.5L1617.3 1142.3L1619.3 1142.4L1621.3 1142.5L1623.3 1142.5L1625.3 1142.3L1627.3 1142.5L1629.3 1142.4L1631.3 1142.2L1633.3 1142.5L1635.3 1142.3L1637.3 1142.6L1639.3 1142.4L1641.3 1142.5L1643.3 1142.4L1645.3 1142.4L1647.3 1142.2L1649.4 1142.2L1651.4 1142.7L1653.4 1142.4L1655.4 1142.4L1657.4 1142.4L1659.4 1142.6L1661.4 1142.2L1663.4 1142.2L1665.4 1142.6L1667.4 1142.4L1669.4 1142.5L1671.4 1142.6L1673.4 1142.6L1675.4 1142.6L1677.4 1142.1L1679.4 1142.3L1681.4 1142.6L1683.4 1142.6L1685.4 1142.2L1687.4 1142.2L1689.4 1142.3L1691.4 1142.2L1693.4 1142.3L1695.4 1142.6L1697.4 1142.4L1699.4 1142.4L1701.4 1142.2L1703.4 1142.3L1705.4 1142.7L1707.4 1142.5L1709.4 1142.4L1711.4 1142.4L1713.4 1142.6L1715.5 1142.6L1717.5 1142.2L1719.5 1142.5L1721.5 1142.3L1723.5 1142.4L1725.5 1142.2L1727.5 1142.3L1729.5 1142.3L1731.5 1142.3L1733.5 1142.1L1735.5 1142.2L1737.5 1142.4L1739.5 1142.1L1741.5 1142.2L1743.5 1142.5L1745.5 1142.3L1747.5 1142.3L1749.5 1142.2L1751.5 1142.6L1753.5 1142.2L1755.5 1142.5L1757.5 1142.6L1759.5 1142.2L1761.5 1142.4L1763.5 1142.6L1765.5 1142.5L1767.5 1142.3L1769.5 1142.1L1771.5 1142.4L1773.5 1142.3L1775.5 1142.5L1777.5 1142.3L1779.5 1142.3L1781.5 1142.5L1783.6 1142.6L1785.6 1142.3L1787.6 1142.3L1789.6 1142.4L1791.6 1142.7L1793.6 1142.2L1795.6 1142.7L1797.6 1142.5L1799.6 1142.3L1801.6 1142.5L1803.6 1142.3L1805.6 1142.1L1807.6 1142.6L1809.6 1142.3L1811.6 1142.4L1813.6 1142.4L1815.6 1142.6L1817.6 1142.6L1819.6 1142.1L1821.6 1142.5L1823.6 1142.4L1825.6 1142.4L1827.6 1142.6L1829.6 1142.3L1831.6 1142.4L1833.6 1142.6L1835.6 1142.4L1837.6 1142.4L1839.6 1142.4L1841.6 1142.6L1843.6 1142.5L1845.6 1142.5L1847.6 1142.3L1849.7 1142.1L1851.7 1142.5L1853.7 1142.4L1855.7 1142.6L1857.7 1142.6L1859.7 1142.2L1861.7 1142.2L1863.7 1142.1L1865.7 1142.6L1867.7 1142.2L1869.7 1142.2L1871.7 1142.6L1873.7 1142.4L1875.7 1142.1L1877.7 1142.5L1879.7 1142.5L1881.7 1142.4L1883.7 1142.1L1885.7 1142.5L1887.7 1142.4L1889.7 1142.5L1891.7 1142.7L1893.7 1142.6L1895.7 1142.6L1897.7 1142.2L1899.7 1142.3L1901.7 1142.4L1903.7 1142.1L1905.7 1142.7L1907.7 1142.3L1909.7 1142.3L1911.7 1142.3L1913.7 1142.3L1915.8 1142.6L1917.8 1142.4L1919.8 1142.4L1921.8 1142.4L1923.8 1142.1L1925.8 1142.3L1927.8 1142.6L1929.8 1142.6L1931.8 1142.6L1933.8 1142.3L1935.8 1142.2L1937.8 1142.1L1939.8 1142.4L1941.8 1142.3L1943.8 1142.4L1945.8 1142.4L1947.8 1142.5L1949.8 1142.3L1951.8 1142.6L1953.8 1142.2L1955.8 1142.7L1957.8 1142.4L1959.8 1142.1L1961.8 1142.3L1963.8 1142.4L1965.8 1142.3L1967.8 1142.4L1969.8 1142.3L1971.8 1142.3L1973.8 1142.6L1975.8 1142.3L1977.8 1142.5L1979.8 1142.6L1981.8 1142.5L1983.9 1142.4L1985.9 1142.7L1987.9 1142.4L1989.9 1142.6L1991.9 1142.1L1993.9 1142.4L1995.9 1142.5L1997.9 1142.1L1999.9 1142.6L2001.9 1142.1L2003.9 1142.5L2005.9 1142.2L2007.9 1142.7L2009.9 1142.4L2011.9 1142.6L2013.9 1142.4L2015.9 1142.5L2017.9 1142.5L2019.9 1142.3L2021.9 1142.2L2023.9 1142.6L2025.9 1142.2L2027.9 1142.7L2029.9 1142.2L2031.9 1142.2L2033.9 1142.2L2035.9 1142.6L2037.9 1142.7L2039.9 1142.3L2041.9 1142.5L2043.9 1142.3L2045.9 1142.6L2047.9 1142.5L2050.0 1142.2L2052.0 1142.1L2054.0 1142.5L2056.0 1142.1L2058.0 1142.6L2060.0 1142.3L2062.0 1142.2L2064.0 1142.4L2066.0 1142.3L2068.0 1142.4L2070.0 1142.2L2072.0 1142.6L2074.0 1142.3L2076.0 1142.6L2078.0 1142.2L2080.0 1142.6L2082.0 1142.4" stroke="#000" stroke-width="7"/>
<line x1="301" y1="1250.4" x2="2082" y2="1250.4" stroke="#0000ff" stroke-width="3.3" stroke-dasharray="1.5 6"/>
</g>
<g stroke="#000" stroke-width="3.4" stroke-linecap="round"><line x1="678.2" y1="1359.5" x2="678.2" y2="1332"/><line x1="1146.2" y1="1359.5" x2="1146.2" y2="1332"/><line x1="1614.3" y1="1359.5" x2="1614.3" y2="1332"/><line x1="2082.3" y1="1359.5" x2="2082.3" y2="1332"/><line x1="444.2" y1="1359.5" x2="444.2" y2="1345"/><line x1="912.2" y1="1359.5" x2="912.2" y2="1345"/><line x1="1380.3" y1="1359.5" x2="1380.3" y2="1345"/><line x1="1848.3" y1="1359.5" x2="1848.3" y2="1345"/><line x1="268" y1="1250.2" x2="295.5" y2="1250.2"/><line x1="268" y1="1031.6" x2="295.5" y2="1031.6"/><line x1="268" y1="813.0" x2="295.5" y2="813.0"/><line x1="268" y1="594.4" x2="295.5" y2="594.4"/><line x1="268" y1="375.8" x2="295.5" y2="375.8"/><line x1="268" y1="157.2" x2="295.5" y2="157.2"/><line x1="268" y1="1140.9" x2="282.5" y2="1140.9"/><line x1="268" y1="922.3" x2="282.5" y2="922.3"/><line x1="268" y1="703.7" x2="282.5" y2="703.7"/><line x1="268" y1="485.1" x2="282.5" y2="485.1"/><line x1="268" y1="266.5" x2="282.5" y2="266.5"/></g>
<rect x="268" y="48" width="1814.3" height="1311.5" fill="none" stroke="#000" stroke-width="3.5" stroke-linejoin="round"/>
<g font-size="72" text-anchor="middle" fill="#000"><text x="678.2" y="1444">200</text><text x="1146.2" y="1444">400</text><text x="1614.3" y="1444">600</text><text x="2082.3" y="1444">800</text></g>
<g font-size="72" text-anchor="end" fill="#000"><text x="240.8" y="1270.5">0</text><text x="240.8" y="1051.9">20</text><text x="240.8" y="833.3">40</text><text x="240.8" y="614.7">60</text><text x="240.8" y="396.1">80</text><text x="240.8" y="177.5">100</text></g>
<text x="1001.6" y="1556.6" font-size="72">Temperture/</text><text x="1354.8" y="1521.5" font-size="40">o</text><text transform="translate(1376.3,1556.6) scale(1.033,1)" font-size="72">C</text>
<text transform="translate(87.3,735) rotate(-90)" font-size="71" text-anchor="middle">Mass fraction/%</text>
<g stroke="#000080" stroke-width="2.5" stroke-linecap="round">
<line x1="757.3" y1="715.3" x2="913.5" y2="715.3"/>
<line x1="667" y1="1217" x2="777" y2="1122"/>
<line x1="1090.8" y1="1135.1" x2="1191.7" y2="1055.1"/>
</g>
<g font-size="52">
<text x="922.8" y="732.3" fill="#000080">227</text><text x="1002.2" y="732.3" class="cjk" font-size="47.4" fill="#000">℃</text><text x="1051.5" y="732.3" fill="#000080">, 49%</text>
<text x="696.1" y="1110.9" fill="#000080">189</text><text x="773.3" y="1110.9" class="cjk" font-size="47.4" fill="#000">℃</text><text x="822.5" y="1110.9" fill="#000080">, 2.23%</text>
<text x="1201.5" y="1066.3" fill="#000080">372</text><text x="1280" y="1066.3" class="cjk" font-size="47.4" fill="#000">℃</text><text x="1329" y="1066.3" fill="#000080">, 9.88%</text>
</g>
<text x="540" y="1136.5" font-size="72" fill="#ff0000">a</text>
<text x="1141" y="973" font-size="72" fill="#000">b</text>
</svg>
</body></html>
